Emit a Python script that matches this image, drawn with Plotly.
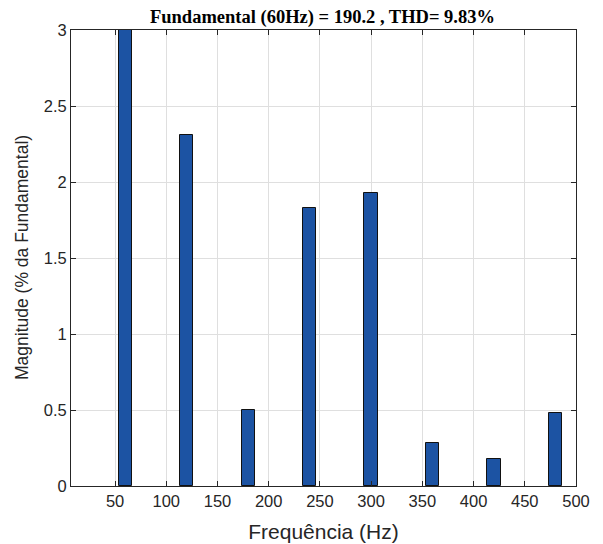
import plotly.graph_objects as go

# Harmonic spectrum, magnitudes as % of the fundamental
freqs = [60, 120, 180, 240, 300, 360, 420, 480]
magnitudes = [100.0, 2.31, 0.50, 1.83, 1.93, 0.28, 0.18, 0.48]
x_ticks = [50, 100, 150, 200, 250, 300, 350, 400, 450, 500]
y_ticks = [0, 0.5, 1, 1.5, 2, 2.5, 3]
y_tick_text = ["0", "0.5", "1", "1.5", "2", "2.5", "3"]

title_text = "Fundamental (60Hz) = 190.2 , THD= 9.83%"
x_title = "Frequência (Hz)"
y_title = "Magnitude (% da Fundamental)"

axis_color = "#262626"
grid_color = "#dfdfdf"
font_family = "Liberation Sans, Arial, sans-serif"

fig = go.Figure(
    go.Bar(
        x=freqs,
        y=magnitudes,
        width=13,
        marker=dict(color="#1c53a3", line=dict(color="#111111", width=1)),
        hoverinfo="x+y",
    )
)

axis_common = dict(
    showline=True,
    linecolor=axis_color,
    linewidth=1,
    mirror="allticks",
    ticks="inside",
    ticklen=5,
    tickcolor=axis_color,
    showgrid=True,
    gridcolor=grid_color,
    gridwidth=1,
    zeroline=False,
    automargin=False,
    tickfont=dict(family=font_family, size=16.5, color=axis_color),
)

fig.update_layout(
    width=603,
    height=544,
    margin=dict(l=71, r=27, t=30, b=58),
    paper_bgcolor="white",
    plot_bgcolor="white",
    showlegend=False,
    bargap=0,
    title=dict(
        text="<b>" + title_text + "</b>",
        x=(148 + 497) / 2 / 603,
        xanchor="center",
        y=1 - 17 / 544,
        yanchor="middle",
        font=dict(family="Liberation Serif, Times New Roman, serif", size=18.5, color="#000000"),
    ),
    xaxis=dict(
        axis_common,
        range=[7, 500],
        tickvals=x_ticks,
        ticktext=[str(v) for v in x_ticks],
        title=dict(text=x_title, font=dict(family=font_family, size=21, color=axis_color)),
    ),
    yaxis=dict(
        axis_common,
        range=[0, 3],
        tickvals=y_ticks,
        ticktext=y_tick_text,
    ),
    annotations=[
        dict(
            text=y_title,
            textangle=-90,
            xref="paper",
            yref="paper",
            x=-49 / 505,
            y=0.5,
            xanchor="center",
            yanchor="middle",
            showarrow=False,
            font=dict(family=font_family, size=17.5, color=axis_color),
        )
    ],
)

fig.write_html("out.html")
